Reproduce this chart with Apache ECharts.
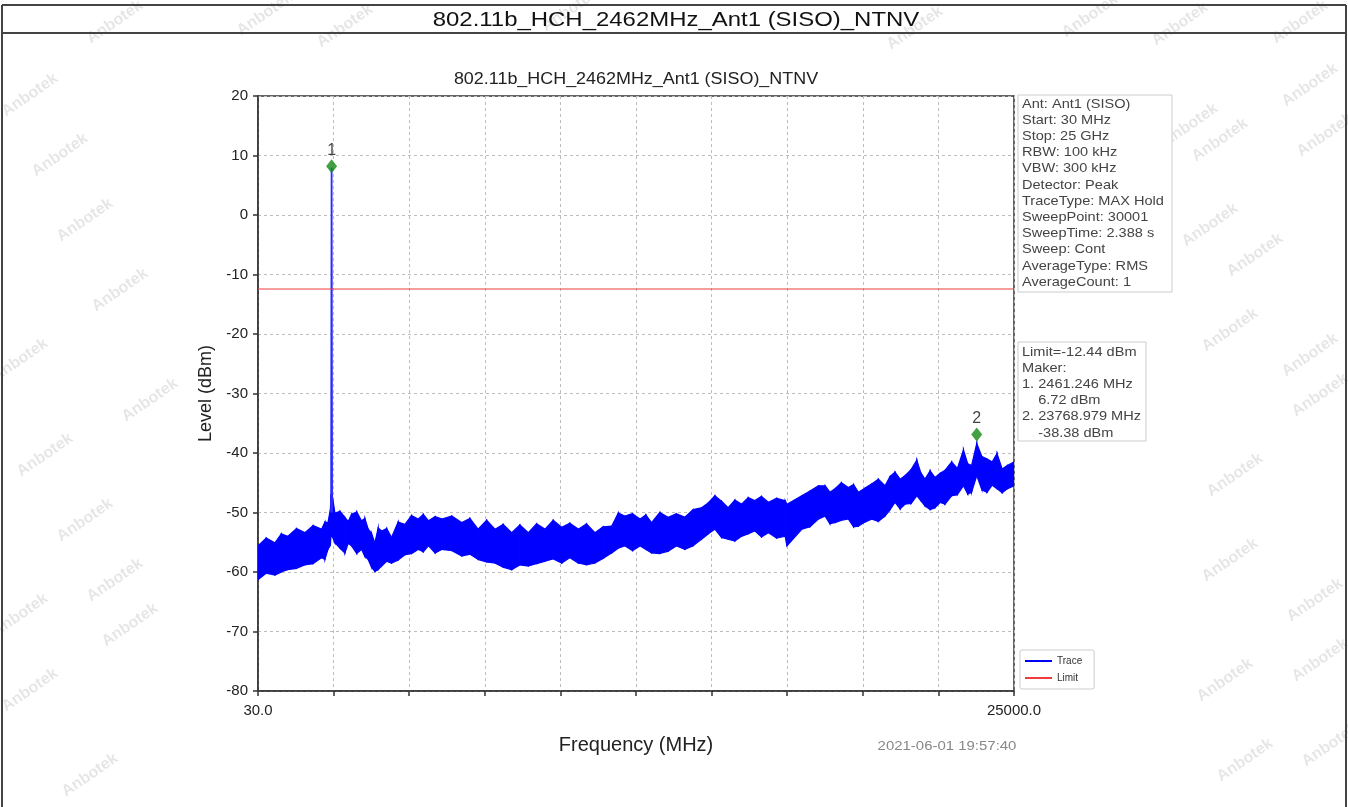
<!DOCTYPE html>
<html>
<head>
<meta charset="utf-8">
<title>802.11b_HCH_2462MHz_Ant1 (SISO)_NTNV</title>
<script src="https://cdn.jsdelivr.net/npm/echarts@6/dist/echarts.min.js"></script>
<style>
    html, body { margin: 0; padding: 0; background: #fff; }
    #J-spectrum { width: 1348px; height: 807px; }
</style>
</head>
<body>
<div id="J-spectrum"></div>
<script>
// 频点 (MHz) 与噪声包络上下沿 (dBm)
const freqs = [30, 300, 590, 800, 1020, 1300, 1580, 1850, 2130, 2240, 2340, 2420, 2440, 2480, 2570, 2740,
    2900, 3010, 3120, 3290, 3450, 3560, 3670, 3780, 3890, 4000, 4115, 4280, 4440, 4660, 4885, 5100,
    5325, 5490, 5660, 5880, 6100, 6430, 6760, 7030, 7300, 7580, 7860, 8130, 8410, 8680, 8960, 9230,
    9510, 9780, 10060, 10330, 10610, 10880, 11160, 11430, 11710, 11930, 12150, 12400, 12650, 12840,
    13030, 13300, 13580, 13850, 14130, 14400, 14680, 14900, 15120, 15340, 15560, 15780, 16000, 16220,
    16440, 16660, 16890, 17160, 17440, 17500, 17990, 18260, 18540, 18760, 18920, 19090, 19300, 19530,
    19700, 19860, 20080, 20300, 20520, 20740, 20900, 21070, 21240, 21400, 21600, 21790, 21920, 22060,
    22230, 22390, 22560, 22720, 22940, 23130, 23330, 23470, 23600, 23770, 23940, 24110, 24280, 24440,
    24610, 24780, 25000];
const upper = [-55.6, -54.3, -55.1, -53.6, -54.0, -52.7, -53.4, -52.2, -52.8, -51.6, -51.7, -49.5, -47.0, -47.0, -50.1, -49.8,
    -50.8, -51.5, -50.3, -49.9, -51.4, -51.0, -52.8, -53.5, -55.1, -52.6, -53.1, -52.7, -54.2, -51.6, -52.0, -50.5,
    -51.1, -50.3, -51.4, -50.7, -51.1, -50.6, -51.7, -51.0, -52.8, -51.3, -52.8, -52.0, -53.4, -52.1, -53.4, -51.9,
    -52.8, -51.3, -52.5, -51.8, -52.8, -51.9, -53.4, -52.4, -52.3, -50.1, -50.6, -50.2, -51.1, -50.4,
    -51.7, -50.0, -50.8, -50.2, -50.8, -49.5, -49.2, -48.4, -47.2, -48.1, -49.2, -47.9, -48.6, -47.5,
    -48.0, -47.3, -48.3, -47.6, -48.0, -48.6, -47.2, -46.4, -45.5, -45.5, -46.6, -46.0, -45.0, -45.8,
    -45.3, -46.6, -45.9, -45.2, -44.4, -45.5, -44.0, -43.2, -44.4, -43.8, -42.8, -41.2, -43.3, -44.4,
    -43.0, -44.1, -43.4, -42.9, -41.5, -42.6, -39.5, -41.8, -42.1, -38.4, -40.6, -41.0, -41.5, -40.1,
    -42.7, -42.1, -41.5];
const lower = [-61.3, -60.2, -60.5, -60.0, -59.6, -59.4, -58.8, -58.6, -57.6, -57.9, -56.2, -55.5, -54.0, -54.0, -55.1, -56.0,
    -56.8, -55.2, -55.6, -56.9, -56.2, -57.4, -57.9, -59.2, -59.9, -59.6, -59.0, -58.2, -58.5, -58.0, -57.1, -56.9,
    -56.2, -56.6, -55.6, -56.8, -56.2, -56.4, -57.3, -57.0, -57.9, -58.3, -58.5, -59.2, -59.6, -58.8, -59.0, -58.6,
    -58.2, -57.8, -58.5, -57.6, -58.5, -58.8, -58.5, -57.7, -56.8, -56.0, -55.6, -56.4, -55.6, -56.2,
    -56.8, -56.9, -56.5, -55.6, -56.2, -55.6, -54.5, -53.6, -52.8, -54.2, -54.5, -54.8, -54.0, -53.6,
    -53.1, -54.1, -53.4, -54.3, -54.0, -55.6, -52.8, -52.4, -51.1, -50.6, -51.9, -51.7, -51.3, -51.1,
    -52.4, -52.3, -51.6, -51.1, -51.5, -50.6, -49.6, -48.3, -49.4, -48.6, -48.5, -47.2, -48.0, -48.9,
    -49.5, -49.2, -48.3, -48.6, -47.2, -47.0, -45.5, -46.9, -46.6, -43.8, -46.2, -46.6, -45.4, -46.0,
    -46.7, -46.0, -45.5];

// 载波尖峰
const spikeFreqs = [2445, 2461.246, 2477];
const spikeLevels = [-50, 8.0, -50];

// 标记点 (位置按图上菱形)
const markerFreqs = [2461.246, 23768.979];
const markerLevels = [8.2, -36.9];
const markerNames = ['1', '2'];

const limitLevel = -12.44;
const xRange = [30, 25000];
const yTicks = [-80, -70, -60, -50, -40, -30, -20, -10, 0, 10, 20];

const infoLines = ['Ant: Ant1 (SISO)', 'Start: 30 MHz', 'Stop: 25 GHz', 'RBW: 100 kHz', 'VBW: 300 kHz',
    'Detector: Peak', 'TraceType: MAX Hold', 'SweepPoint: 30001', 'SweepTime: 2.388 s', 'Sweep: Cont',
    'AverageType: RMS', 'AverageCount: 1'];
const limitLines = ['Limit=-12.44 dBm', 'Maker:', '1. 2461.246 MHz', '    6.72 dBm', '2. 23768.979 MHz', '    -38.38 dBm'];

const TITLE = '802.11b_HCH_2462MHz_Ant1 (SISO)_NTNV';
const FONT = '"Liberation Sans", Arial, sans-serif';

// 水印
const marks = [[115, 22], [265, 14], [345, 26], [570, 10], [915, 28], [1090, 16], [1180, 24], [1300, 22],
    [30, 95], [60, 155], [85, 220], [120, 290], [20, 360], [150, 400], [45, 455], [85, 520], [115, 580],
    [20, 615], [130, 625], [30, 690], [90, 775], [1220, 140], [1310, 85], [1255, 255], [1325, 135],
    [1230, 330], [1310, 355], [1235, 475], [1320, 395], [1230, 560], [1315, 600], [1225, 680], [1320, 660],
    [1245, 760], [1330, 745], [1190, 125], [1210, 225]];

function textBlock(lines, x, y) {
    return lines.map((t, i) => ({
        type: 'text',
        x: x,
        y: y + i * 16.2,
        scaleX: 1.12,
        style: { text: t, font: '13px ' + FONT, fill: '#444', textVerticalAlign: 'middle' }
    }));
}

const graphic = [];
marks.forEach(p => {
    graphic.push({
        type: 'text', x: p[0], y: p[1], rotation: 0.6, z: -10, silent: true,
        style: { text: 'Anbotek', font: 'bold 16px ' + FONT, fill: 'rgba(0,0,0,0.1)',
            textAlign: 'center', textVerticalAlign: 'middle' }
    });
});
graphic.push(
    { type: 'line', shape: { x1: 2, y1: 5, x2: 1346, y2: 5 }, style: { stroke: '#444', lineWidth: 2 } },
    { type: 'line', shape: { x1: 2, y1: 33, x2: 1346, y2: 33 }, style: { stroke: '#444', lineWidth: 2 } },
    { type: 'line', shape: { x1: 2, y1: 5, x2: 2, y2: 807 }, style: { stroke: '#444', lineWidth: 2 } },
    { type: 'line', shape: { x1: 1346, y1: 5, x2: 1346, y2: 807 }, style: { stroke: '#444', lineWidth: 2 } },
    { type: 'text', x: 676, y: 20, scaleX: 1.14,
        style: { text: TITLE, font: '21px ' + FONT, fill: '#111', textAlign: 'center', textVerticalAlign: 'middle' } },
    { type: 'text', x: 636, y: 80, scaleX: 1.12,
        style: { text: TITLE, font: '16px ' + FONT, fill: '#222', textAlign: 'center', textVerticalAlign: 'middle' } },
    { type: 'text', x: 947, y: 746, scaleX: 1.15,
        style: { text: '2021-06-01 19:57:40', font: '13px ' + FONT, fill: '#888', textAlign: 'center', textVerticalAlign: 'middle' } },
    { type: 'rect', shape: { x: 1018, y: 95, width: 154, height: 197 },
        style: { fill: '#fff', stroke: '#ccc', lineWidth: 1 } },
    { type: 'rect', shape: { x: 1018, y: 342, width: 128, height: 99 },
        style: { fill: '#fff', stroke: '#ccc', lineWidth: 1 } }
);
graphic.push(...textBlock(infoLines, 1022, 104));
graphic.push(...textBlock(limitLines, 1022, 352));

// 噪声带：相邻两个频点之间画一个上下沿围成的四边形
function renderBand(params, api) {
    const i = params.dataIndex;
    if (i >= freqs.length - 1) return null;
    const pts = [
        api.coord([freqs[i], upper[i]]),
        api.coord([freqs[i + 1], upper[i + 1]]),
        api.coord([freqs[i + 1], lower[i + 1]]),
        api.coord([freqs[i], lower[i]])
    ];
    return {
        type: 'polygon',
        shape: { points: pts },
        style: { fill: '#0000ff', stroke: '#0000ff', lineWidth: 1.2 }
    };
}

const option = {
    animation: false,
    backgroundColor: '#fff',
    graphic: graphic,
    legend: {
        data: ['Trace', 'Limit'],
        orient: 'vertical',
        left: 1020,
        top: 650,
        padding: [6, 12, 6, 5],
        itemGap: 7,
        itemWidth: 27,
        itemHeight: 2,
        icon: 'rect',
        backgroundColor: '#fff',
        borderColor: '#ccc',
        borderWidth: 1,
        borderRadius: 2,
        textStyle: { fontSize: 10, color: '#333', fontFamily: FONT }
    },
    grid: {
        left: 258,
        top: 96,
        width: 756,
        height: 595,
        show: true,
        borderColor: '#333',
        borderWidth: 1.5,
        backgroundColor: 'transparent'
    },
    xAxis: [
        {
            type: 'value',
            min: xRange[0],
            max: xRange[1],
            name: 'Frequency (MHz)',
            nameLocation: 'middle',
            nameGap: 44,
            nameTextStyle: { fontSize: 20, color: '#222', fontFamily: FONT },
            axisLine: { show: true, onZero: false, lineStyle: { color: '#333', width: 1.5 } },
            axisTick: { show: false },
            splitLine: { show: false },
            axisLabel: {
                customValues: xRange,
                margin: 12,
                fontSize: 15,
                color: '#222',
                fontFamily: FONT,
                formatter: v => v.toFixed(1)
            }
        },
        {
            // 只用来画等分刻度和网格
            type: 'value',
            min: 0,
            max: 10,
            interval: 1,
            position: 'bottom',
            axisLine: { show: false, onZero: false },
            axisTick: { show: true, length: 5, lineStyle: { color: '#333', width: 1.5 } },
            axisLabel: { show: false },
            splitLine: { show: true, lineStyle: { color: '#bdbdbd', type: [3, 3], width: 1 } }
        }
    ],
    yAxis: {
        type: 'value',
        min: yTicks[0],
        max: yTicks[yTicks.length - 1],
        interval: 10,
        name: 'Level (dBm)',
        nameLocation: 'middle',
        nameGap: 41,
        nameTextStyle: { fontSize: 18, color: '#222', fontFamily: FONT },
        axisLine: { show: true, onZero: false, lineStyle: { color: '#333', width: 1.5 } },
        axisTick: { show: true, length: 5, lineStyle: { color: '#333', width: 1.5 } },
        axisLabel: { margin: 10, fontSize: 15, color: '#222', fontFamily: FONT },
        splitLine: { show: true, lineStyle: { color: '#bdbdbd', type: [3, 3], width: 1 } }
    },
    series: [
        {
            name: 'Trace',
            type: 'custom',
            renderItem: renderBand,
            data: freqs.map((f, i) => [f, upper[i], lower[i]]),
            encode: { x: 0, y: [1, 2] },
            itemStyle: { color: '#0000ff' },
            clip: true,
            silent: true,
            z: 3
        },
        {
            name: 'Trace',
            type: 'line',
            data: spikeFreqs.map((f, i) => [f, spikeLevels[i]]),
            symbol: 'none',
            color: '#0000ff',
            lineStyle: { color: '#2a2aff', width: 1.8 },
            z: 4
        },
        {
            name: 'Limit',
            type: 'line',
            data: xRange.map(f => [f, limitLevel]),
            symbol: 'none',
            color: '#f03c3c',
            lineStyle: { color: '#f03c3c', width: 1 },
            z: 5
        },
        {
            name: 'Marker',
            type: 'scatter',
            data: markerFreqs.map((f, i) => [f, markerLevels[i]]),
            symbol: 'diamond',
            symbolSize: [11, 14],
            itemStyle: { color: '#138a13' },
            label: {
                show: true,
                position: 'top',
                distance: 1,
                fontSize: 16,
                color: '#111',
                fontFamily: FONT,
                formatter: p => markerNames[p.dataIndex]
            },
            z: 6
        }
    ]
};

const id = 'J-spectrum';
const chart = echarts.init(document.getElementById(id));
chart.setOption(option);
</script>
</body>
</html>
